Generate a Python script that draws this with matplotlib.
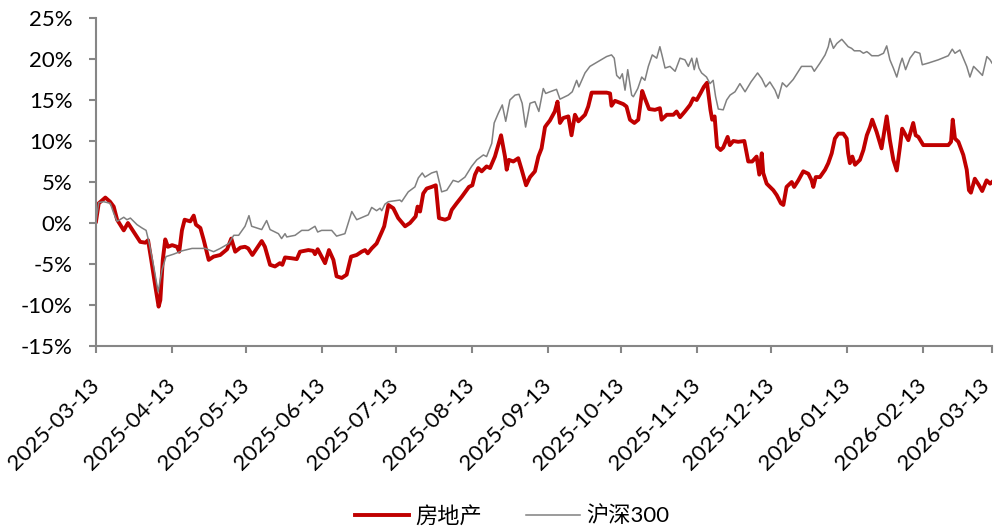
import matplotlib
matplotlib.use("Agg")
import matplotlib.pyplot as plt
import matplotlib.transforms as mtransforms
from matplotlib.ticker import FuncFormatter, MultipleLocator
import pandas as pd

plt.rcParams["font.family"] = ["Lato", "Noto Sans CJK SC", "DejaVu Sans"]

START = "2025-03-13"

# 房地产: days since start, cumulative return (%)
re_days = [0.0, 1.1, 3.8, 5.7, 7.2, 8.6, 11.3, 13.0, 15.4, 18.0, 20.1, 21.2, 22.5, 24.2,
           25.5, 26.2, 27.2, 28.2, 29.3, 31.0, 33.0, 33.9, 35.0, 36.1, 38.4, 39.8, 40.7,
           42.5, 43.9, 45.9, 47.9, 50.6, 53.4, 55.1, 56.7, 58.8, 60.7, 62.0, 63.7, 65.5,
           67.5, 68.8, 70.9, 72.9, 74.9, 75.9, 77.0, 79.7, 81.8, 83.1, 86.5, 88.5, 89.2,
           90.3, 93.3, 94.9, 96.7, 98.0, 100.1, 102.1, 103.9, 106.2, 108.2, 109.6, 110.7,
           112.3, 114.3, 116.4, 117.4, 119.1, 121.1, 123.1, 125.9, 127.9, 130.2, 131.0,
           132.0, 133.3, 134.7, 136.7, 138.4, 139.7, 142.2, 143.8, 144.9, 146.9, 149.0,
           151.9, 153.3, 154.4, 155.7, 157.1, 159.1, 160.5, 162.5, 165.0, 166.6, 167.3,
           168.2, 170.0, 172.0, 173.4, 175.2, 176.8, 178.8, 180.2, 181.5, 182.9, 183.6,
           184.9, 186.9, 188.0, 189.0, 190.3, 192.4, 193.7, 195.1, 196.5, 199.2, 200.5,
           201.9, 208.0, 209.4, 210.0, 211.4, 214.8, 216.1, 217.5, 219.3, 220.9, 222.5,
           223.6, 225.3, 227.7, 229.7, 230.4, 232.5, 235.2, 236.5, 237.9, 239.9, 242.0,
           243.3, 244.7, 246.2, 247.6, 248.9, 250.3, 251.0, 252.0, 253.0, 254.4, 255.5,
           257.3, 258.2, 259.6, 261.6, 264.1, 265.7, 267.3, 269.1, 270.2, 271.2, 271.8,
           273.2, 275.9, 277.3, 279.0, 280.0, 281.3, 283.4, 284.4, 286.1, 288.1, 290.2,
           291.5, 292.2, 293.2, 294.9, 297.0, 298.3, 299.7, 301.0, 302.4, 304.4, 305.8,
           306.4, 307.1, 308.1, 309.2, 311.2, 312.6, 314.0, 315.3, 316.2, 318.0, 320.0,
           322.1, 323.4, 324.8, 326.2, 327.5, 328.4, 329.5, 330.9, 332.9, 333.9, 335.0,
           337.0, 347.2, 348.3, 349.0, 349.9, 351.3, 353.3, 354.7, 355.6, 356.4, 358.0,
           359.7, 361.0, 362.8, 364.2, 365.0]
re_vals = [0.2, 2.4, 3.1, 2.6, 2.0, 0.4, -0.9, 0.0, -1.1, -2.3, -2.4, -2.1, -4.5, -7.8,
           -10.2, -9.4, -4.5, -2.0, -2.9, -2.7, -2.9, -3.5, -0.9, 0.4, 0.2, 0.9, -0.2,
           -0.6, -2.1, -4.5, -4.1, -3.9, -3.2, -1.9, -3.5, -3.0, -2.9, -3.1, -3.9, -3.1,
           -2.2, -2.9, -5.1, -5.3, -4.9, -5.1, -4.2, -4.3, -4.4, -3.5, -3.3, -3.4, -3.8,
           -3.2, -4.9, -3.3, -4.5, -6.5, -6.7, -6.3, -4.1, -3.9, -3.5, -3.3, -3.7,
           -3.1, -2.5, -1.1, -0.4, 2.2, 1.8, 0.6, -0.4, 0.0, 0.8, 2.0,
           1.4, 3.6, 4.2, 4.4, 4.6, 0.6, 0.4, 0.6, 1.6, 2.4, 3.2,
           4.4, 4.6, 5.9, 6.7, 6.3, 6.9, 6.7, 8.1, 10.7, 8.1, 6.5,
           7.7, 7.5, 7.9, 6.5, 4.6, 5.6, 6.3, 8.1, 9.1, 11.7, 12.0,
           12.5, 13.6, 14.8, 12.2, 12.8, 13.0, 10.7, 13.2, 12.4, 13.2, 14.2,
           15.9, 15.9, 15.8, 14.3, 14.9, 14.5, 14.2, 12.6, 12.2, 12.6, 16.1,
           15.2, 13.9, 13.8, 14.0, 12.6, 13.2, 13.2, 13.6, 12.9, 13.6, 14.4,
           15.2, 15.0, 15.8, 16.6, 17.1, 13.8, 12.6, 13.0, 9.3, 8.9, 9.2,
           10.5, 9.5, 10.0, 9.9, 10.0, 7.5, 7.5, 8.1, 5.9, 8.5, 6.1,
           4.8, 4.0, 3.4, 2.4, 2.2, 4.4, 5.0, 4.4, 5.2, 6.3, 6.0,
           5.2, 4.4, 5.6, 5.6, 6.5, 7.3, 8.5, 10.3, 10.9, 10.9, 10.3,
           8.5, 7.3, 8.1, 7.1, 7.7, 8.9, 10.7, 11.7, 12.6, 11.1, 9.1,
           13.0, 10.1, 7.7, 6.4, 9.3, 11.5, 10.9, 10.1, 12.2, 10.7, 10.5,
           9.5, 9.5, 9.9, 12.6, 10.3, 9.9, 8.3, 6.5, 4.0, 3.7, 5.4,
           4.6, 3.9, 5.2, 4.8, 5.0]

# 沪深300: days since start, cumulative return (%)
hs_days = [0.0, 1.1, 3.1, 5.8, 7.2, 8.6, 11.3, 12.6, 14.0, 16.7, 18.7, 20.4, 21.7, 23.5,
           25.3, 26.9, 28.5, 31.6, 35.0, 39.1, 44.5, 47.9, 50.6, 54.1, 56.1, 58.1, 60.7,
           62.3, 63.4, 67.5, 69.5, 70.9, 74.3, 75.6, 77.0, 77.7, 81.1, 83.8, 86.5, 89.2,
           90.3, 91.9, 96.0, 98.0, 101.4, 104.2, 106.2, 110.9, 112.3, 114.3, 115.7, 116.4,
           117.7, 119.1, 123.8, 124.5, 127.2, 129.9, 131.3, 132.9, 134.0, 136.7, 138.8,
           140.8, 142.9, 145.5, 147.6, 150.3, 153.0, 155.1, 157.8, 159.1, 161.2, 162.2,
           163.9, 165.5, 166.9, 168.6, 170.7, 172.3, 173.6, 175.0, 176.8, 178.8, 180.4,
           182.2, 183.2, 184.9, 187.6, 189.0, 192.4, 194.0, 195.8, 196.7, 199.2, 201.2,
           204.6, 208.0, 210.0, 211.1, 212.1, 213.4, 214.4, 215.5, 216.6, 218.2, 218.9,
           220.7, 222.3, 223.6, 225.0, 226.6, 228.4, 229.7, 230.7, 231.8, 233.8, 235.9,
           237.9, 239.9, 241.3, 242.7, 243.7, 244.7, 245.6, 246.7, 248.7, 250.1, 251.4,
           252.4, 253.5, 255.5, 256.9, 258.3, 260.3, 262.3, 264.4, 266.8, 269.5, 271.2,
           272.8, 274.5, 276.6, 277.9, 279.6, 281.3, 284.0, 287.4, 289.5, 291.5, 292.6,
           294.9, 297.0, 298.3, 299.0, 300.4, 301.8, 303.8, 305.8, 306.4, 307.8, 308.9,
           311.2, 312.6, 314.0, 314.9, 316.0, 318.7, 320.8, 322.1, 323.4, 324.8, 326.2,
           327.5, 328.4, 329.8, 331.6, 333.6, 335.6, 336.6, 339.0, 343.1, 347.2, 348.8,
           349.9, 351.9, 353.3, 354.7, 356.0, 357.5, 359.5, 361.1, 362.9, 364.2, 365.0]
hs_vals = [0.2, 2.5, 2.6, 2.4, 1.2, 0.2, 0.7, 0.4, 0.6, -0.2, -0.6, -0.9, -2.5, -5.3,
           -8.4, -5.7, -4.1, -3.8, -3.4, -3.1, -3.1, -3.5, -3.1, -2.5, -1.5, -1.5, -0.4,
           0.9, -0.4, -0.8, 0.3, -0.8, -1.3, -1.9, -1.3, -1.7, -1.5, -0.9, -0.9, -0.4,
           -1.1, -0.9, -0.9, -1.6, -1.3, 1.4, 0.4, 1.0, 1.9, 1.5, 1.8, 1.5,
           2.3, 2.6, 2.8, 2.6, 3.8, 4.4, 5.5, 6.1, 5.6, 6.1, 6.3,
           3.8, 4.0, 5.2, 5.0, 5.6, 6.9, 7.7, 8.3, 8.1, 9.7, 12.2,
           13.4, 14.4, 12.4, 15.0, 15.6, 15.7, 14.6, 11.7, 14.6, 14.8, 13.6,
           16.4, 15.8, 16.0, 16.3, 15.1, 15.6, 16.0, 17.4, 16.6, 18.3, 19.1,
           19.7, 20.3, 20.5, 20.1, 18.0, 17.6, 18.2, 16.2, 18.7, 15.6, 15.4,
           16.4, 17.8, 17.4, 19.1, 20.5, 20.1, 21.5, 20.3, 18.9, 19.1, 18.5,
           20.1, 19.9, 19.1, 20.1, 18.7, 20.1, 18.9, 18.3, 17.8, 17.0, 17.4,
           15.4, 13.9, 13.8, 15.0, 15.6, 16.0, 17.0, 16.0, 17.2, 18.3, 17.6,
           16.6, 17.2, 16.2, 15.2, 17.1, 16.6, 17.5, 19.1, 19.1, 19.1, 18.5,
           19.5, 20.5, 21.5, 22.5, 21.3, 21.9, 22.4, 21.7, 21.5, 21.3, 21.0,
           21.0, 20.7, 20.9, 20.7, 20.4, 20.4, 20.7, 21.6, 19.9, 18.9, 17.8,
           19.3, 20.1, 18.7, 20.1, 20.9, 20.7, 19.3, 19.5, 19.9, 20.4, 21.2,
           20.7, 21.1, 20.1, 19.1, 17.8, 19.1, 18.5, 18.0, 20.3, 19.9, 19.5]

tick_dates = ["2025-03-13", "2025-04-13", "2025-05-13", "2025-06-13", "2025-07-13",
              "2025-08-13", "2025-09-13", "2025-10-13", "2025-11-13", "2025-12-13",
              "2026-01-13", "2026-02-13", "2026-03-13"]


def to_dates(days):
    return pd.Timestamp(START) + pd.to_timedelta(days, unit="D")


AXIS_GREY = "#868686"

fig = plt.figure(figsize=(9.95, 5.28), dpi=100)
ax = fig.add_axes([0.0965, 0.3447, 0.9005, 0.6212])

ax.plot(to_dates(re_days), re_vals, color="#C00000", lw=2.8, label="房地产",
        solid_joinstyle="round")
ax.plot(to_dates(hs_days), hs_vals, color="#808080", lw=1.1, label="沪深300")

ax.set_ylim(-15, 25)
ax.yaxis.set_major_locator(MultipleLocator(5))
ax.yaxis.set_major_formatter(FuncFormatter(lambda v, p: "{:.0f}%".format(v)))

ticks = pd.to_datetime(tick_dates)
ax.set_xlim(ticks[0], ticks[-1])
ax.set_xticks(ticks)
ax.set_xticklabels(tick_dates, rotation=45, ha="right", rotation_mode="anchor")

for s in ("top", "right"):
    ax.spines[s].set_visible(False)
for s in ("left", "bottom"):
    ax.spines[s].set_color(AXIS_GREY)
    ax.spines[s].set_linewidth(1.5)
ax.tick_params(axis="both", colors=AXIS_GREY, width=1.5, length=5, labelcolor="black",
               labelsize=16)
ax.tick_params(axis="x", pad=16)
ax.tick_params(axis="y", pad=12)

# nudge the rotated date labels left; the last one a bit more so it stays inside
labels = ax.get_xticklabels()
for i, lab in enumerate(labels):
    dx = -0.13 if i == len(labels) - 1 else -0.07
    lab.set_transform(lab.get_transform() +
                      mtransforms.ScaledTranslation(dx, 0, fig.dpi_scale_trans))

fig.legend(loc="lower center", bbox_to_anchor=(0.515, -0.035), ncol=2, frameon=False,
           fontsize=16, handlelength=2.4, columnspacing=2.0, handletextpad=0.3)

fig.savefig("out.png", dpi=100)
